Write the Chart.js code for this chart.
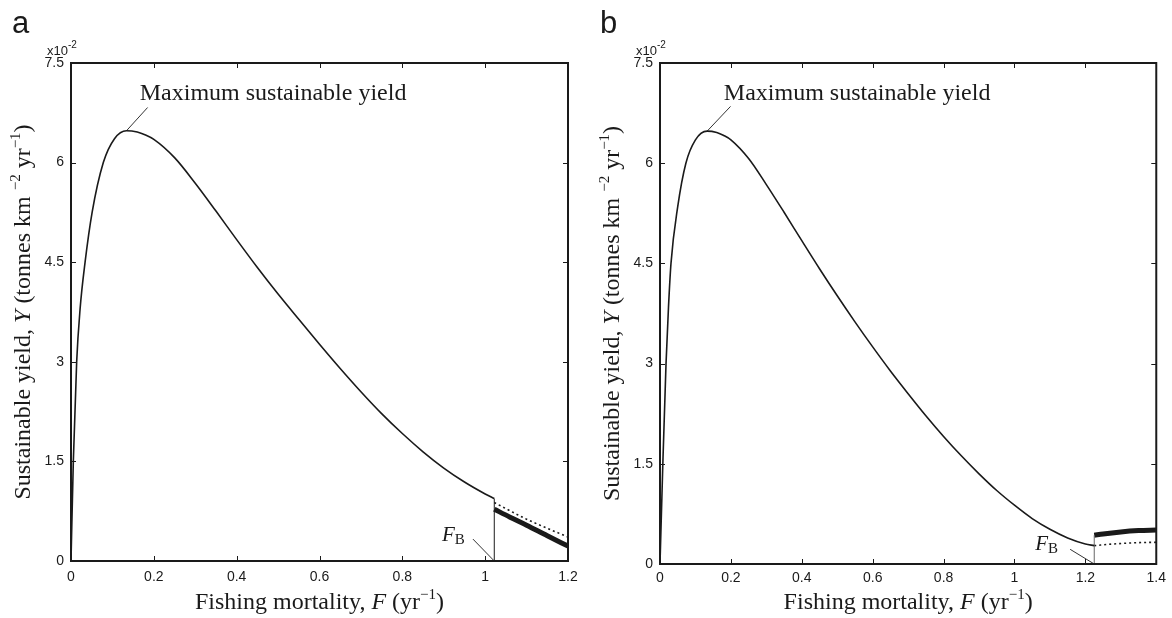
<!DOCTYPE html>
<html>
<head>
<meta charset="utf-8">
<script src="https://cdn.jsdelivr.net/npm/chart.js@4/dist/chart.umd.min.js"></script>
<style>
html,body{margin:0;padding:0;background:#fff;}
#wrap{position:relative;width:1172px;height:618px;overflow:hidden;background:#fff;}
canvas{position:absolute;top:0;}
#ca{left:0;}
#cb{left:586px;}
</style>
</head>
<body>
<div id="wrap">
<canvas id="ca" width="586" height="618"></canvas>
<canvas id="cb" width="586" height="618"></canvas>
</div>
<script>
// ---------- DATA (yield in units of 10^-2 tonnes km^-2 yr^-1) ----------
// Panel a
const fA = [0, 0.0056, 0.0137, 0.022, 0.034, 0.051, 0.078, 0.105, 0.134, 0.16, 0.18, 0.2, 0.25, 0.3, 0.35, 0.4, 0.45, 0.5, 0.55, 0.6, 0.65, 0.7, 0.75, 0.8, 0.85, 0.9, 0.95, 1.0, 1.022];
const yA = [0, 1.5, 3.0, 3.8, 4.5, 5.25, 6.0, 6.36, 6.48, 6.46, 6.415, 6.35, 6.075, 5.69, 5.27, 4.84, 4.42, 4.02, 3.64, 3.265, 2.90, 2.55, 2.22, 1.92, 1.645, 1.40, 1.19, 1.01, 0.94];
const fA_thick = [1.022, 1.06, 1.1, 1.15, 1.2];
const yA_thick = [0.78, 0.66, 0.54, 0.38, 0.225];
const fA_dot = [1.022, 1.1, 1.2];
const yA_dot = [0.88, 0.63, 0.36];
const fbA = 1.022;
const fbTopA = 0.94;

// Panel b
const fB = [0, 0.008, 0.017, 0.024, 0.031, 0.05, 0.073, 0.1, 0.133, 0.16, 0.18, 0.2, 0.25, 0.3, 0.35, 0.4, 0.45, 0.5, 0.55, 0.6, 0.65, 0.7, 0.75, 0.8, 0.85, 0.9, 0.95, 1.0, 1.05, 1.1, 1.15, 1.2, 1.225];
const yB = [0, 1.5, 3.0, 3.85, 4.5, 5.35, 6.0, 6.35, 6.48, 6.46, 6.415, 6.35, 6.07, 5.68, 5.265, 4.84, 4.42, 4.015, 3.625, 3.25, 2.89, 2.55, 2.22, 1.91, 1.62, 1.35, 1.10, 0.88, 0.68, 0.52, 0.39, 0.30, 0.275];
const fB_thick = [1.225, 1.25, 1.3, 1.35, 1.4];
const yB_thick = [0.43, 0.45, 0.48, 0.50, 0.51];
const fB_dot = [1.225, 1.28, 1.35, 1.4];
const yB_dot = [0.275, 0.30, 0.32, 0.325];
const fbB = 1.225;
const fbTopB = 0.43;

// Ticks
const xTicksA = [0, 0.2, 0.4, 0.6, 0.8, 1, 1.2];
const xLabelsA = ["0", "0.2", "0.4", "0.6", "0.8", "1", "1.2"];
const xTicksB = [0, 0.2, 0.4, 0.6, 0.8, 1, 1.2, 1.4];
const xLabelsB = ["0", "0.2", "0.4", "0.6", "0.8", "1", "1.2", "1.4"];
const yTicks = [0, 1.5, 3, 4.5, 6, 7.5];
const yLabels = ["0", "1.5", "3", "4.5", "6", "7.5"];

// Annotation anchors (data coordinates)
const msyLeaderA = {fx: [0.185, 0.134], fy: [6.83, 6.48]};
const msyLeaderB = {fx: [0.199, 0.133], fy: [6.85, 6.48]};
const msyTextA = {x: 0.166, y: 6.94};
const msyTextB = {x: 0.18, y: 6.95};
const fbLeaderA = {fx: [0.9705, 1.022], fy: [0.33, 0.0]};
const fbLeaderB = {fx: [1.157, 1.225], fy: [0.22, 0.0]};
const fbTextA = {x: 0.951, y: 0.30};
const fbTextB = {x: 1.123, y: 0.21};

// ---------- RENDERING ----------
const SERIF = '"Liberation Serif", "Times New Roman", serif';
const SANS = '"Liberation Sans", Arial, Helvetica, sans-serif';
const INK = '#1a1a1a';

function pts(xs, ys) { return xs.map((x, i) => ({x: x, y: ys[i]})); }

function drawRich(ctx, parts, x, y, align) {
  let total = 0;
  parts.forEach(p => { ctx.font = p.f; p.w = ctx.measureText(p.t).width; total += p.w; });
  let cx = align === 'center' ? x - total / 2 : (align === 'right' ? x - total : x);
  parts.forEach(p => {
    ctx.font = p.f;
    ctx.fillText(p.t, cx, y + (p.dy || 0));
    cx += p.w;
  });
}

function makeChart(id, o) {
  const framePlugin = {
    id: 'frame' + id,
    afterDatasetsDraw(chart) {
      const ctx = chart.ctx;
      const a = chart.chartArea;
      const xs = chart.scales.x, ys = chart.scales.y;
      ctx.save();
      // inward ticks on all four sides
      ctx.strokeStyle = INK;
      ctx.lineWidth = 1;
      ctx.beginPath();
      o.xt.forEach(v => {
        const px = Math.round(xs.getPixelForValue(v)) + 0.5;
        ctx.moveTo(px, a.bottom); ctx.lineTo(px, a.bottom - 5);
        ctx.moveTo(px, a.top); ctx.lineTo(px, a.top + 5);
      });
      yTicks.forEach(v => {
        const py = Math.round(ys.getPixelForValue(v)) + 0.5;
        ctx.moveTo(a.left, py); ctx.lineTo(a.left + 5, py);
        ctx.moveTo(a.right, py); ctx.lineTo(a.right - 5, py);
      });
      ctx.stroke();
      // box
      ctx.lineWidth = 2;
      ctx.strokeRect(a.left, a.top, a.right - a.left, a.bottom - a.top);

      ctx.fillStyle = INK;
      ctx.textBaseline = 'alphabetic';
      // panel letter
      ctx.font = '31px ' + SANS;
      ctx.textAlign = 'left';
      ctx.fillText(o.letter, o.letterX, 33);
      // multiplier
      drawRich(ctx, [
        {t: 'x', f: '13px ' + SANS},
        {t: '10', f: '13px ' + SANS},
        {t: '-2', f: '10px ' + SANS, dy: -7}
      ], a.left - 24, 55, 'left');
      // x title
      const cxm = (a.left + a.right) / 2;
      drawRich(ctx, [
        {t: 'Fishing mortality, ', f: '24px ' + SERIF},
        {t: 'F', f: 'italic 24px ' + SERIF},
        {t: ' (yr', f: '24px ' + SERIF},
        {t: '\u22121', f: '15px ' + SERIF, dy: -10},
        {t: ')', f: '24px ' + SERIF}
      ], cxm, 609, 'center');
      // y title (rotated)
      ctx.save();
      ctx.translate(a.left - o.yTitleOff, (a.top + a.bottom) / 2);
      ctx.rotate(-Math.PI / 2);
      drawRich(ctx, [
        {t: 'Sustainable yield, ', f: '24px ' + SERIF},
        {t: 'Y', f: 'italic 24px ' + SERIF},
        {t: ' (tonnes km ', f: '24px ' + SERIF},
        {t: '\u22122', f: '15px ' + SERIF, dy: -10},
        {t: ' yr', f: '24px ' + SERIF},
        {t: '\u22121', f: '15px ' + SERIF, dy: -10},
        {t: ')', f: '24px ' + SERIF}
      ], 0, 0, 'center');
      ctx.restore();
      // MSY label
      drawRich(ctx, [{t: 'Maximum sustainable yield', f: '24px ' + SERIF}],
        xs.getPixelForValue(o.msyText.x), ys.getPixelForValue(o.msyText.y), 'left');
      // F_B label
      drawRich(ctx, [
        {t: 'F', f: 'italic 21px ' + SERIF},
        {t: 'B', f: '15px ' + SERIF, dy: 3}
      ], xs.getPixelForValue(o.fbText.x), ys.getPixelForValue(o.fbText.y), 'right');
      ctx.restore();
    }
  };

  const lineDs = (data, extra) => Object.assign({
    data: data, showLine: true, pointRadius: 0, pointHoverRadius: 0,
    borderColor: INK, borderWidth: 1.5, fill: false, tension: 0
  }, extra);

  return new Chart(document.getElementById(id), {
    type: 'scatter',
    data: {
      datasets: [
        lineDs(pts(o.f, o.y), {cubicInterpolationMode: 'monotone', borderWidth: 1.6}),
        lineDs(pts([o.fb, o.fb], [0, o.fbTop]), {borderWidth: 1, borderColor: o.vColor}),
        lineDs(pts(o.fDot, o.yDot), {cubicInterpolationMode: 'monotone', borderWidth: 1.6, borderDash: [2, 3]}),
        lineDs(pts(o.fThick, o.yThick), {cubicInterpolationMode: 'monotone', borderWidth: 5, borderCapStyle: 'butt'}),
        lineDs(pts(o.msyLeader.fx, o.msyLeader.fy), {borderWidth: 1, borderColor: '#333'}),
        lineDs(pts(o.fbLeader.fx, o.fbLeader.fy), {borderWidth: 1, borderColor: '#333'})
      ]
    },
    options: {
      responsive: false,
      animation: false,
      devicePixelRatio: 1,
      events: [],
      layout: {padding: {left: 0, top: o.padTop, right: o.padRight, bottom: 0}},
      plugins: {legend: {display: false}, tooltip: {enabled: false}, title: {display: false}},
      scales: {
        x: {
          type: 'linear', min: 0, max: o.xMax,
          afterBuildTicks: s => { s.ticks = o.xt.map(v => ({value: v})); },
          afterFit: s => { s.height = o.xH; },
          ticks: {callback: (v, i) => o.xl[i], font: {family: SANS, size: 14}, color: INK, padding: o.xPad, maxRotation: 0, autoSkip: false},
          grid: {display: false, drawTicks: false},
          border: {display: false}
        },
        y: {
          type: 'linear', min: 0, max: 7.5,
          afterBuildTicks: s => { s.ticks = yTicks.map(v => ({value: v})); },
          afterFit: s => { s.width = o.yW; },
          ticks: {callback: (v, i) => yLabels[i], font: {family: SANS, size: 14}, color: INK, padding: 7, autoSkip: false},
          grid: {display: false, drawTicks: false},
          border: {display: false}
        }
      }
    },
    plugins: [framePlugin]
  });
}

makeChart('ca', {
  f: fA, y: yA, fThick: fA_thick, yThick: yA_thick, fDot: fA_dot, yDot: yA_dot,
  fb: fbA, fbTop: fbTopA, vColor: INK,
  xt: xTicksA, xl: xLabelsA, xMax: 1.2,
  msyLeader: msyLeaderA, msyText: msyTextA, fbLeader: fbLeaderA, fbText: fbTextA,
  letter: 'a', letterX: 12, yTitleOff: 41,
  padTop: 63, padRight: 18, xH: 57, yW: 71, xPad: 8
});
makeChart('cb', {
  f: fB, y: yB, fThick: fB_thick, yThick: yB_thick, fDot: fB_dot, yDot: yB_dot,
  fb: fbB, fbTop: fbTopB, vColor: '#666',
  xt: xTicksB, xl: xLabelsB, xMax: 1.4,
  msyLeader: msyLeaderB, msyText: msyTextB, fbLeader: fbLeaderB, fbText: fbTextB,
  letter: 'b', letterX: 14, yTitleOff: 41,
  padTop: 63, padRight: 11, xH: 54, yW: 74, xPad: 6
});
</script>
</body>
</html>
